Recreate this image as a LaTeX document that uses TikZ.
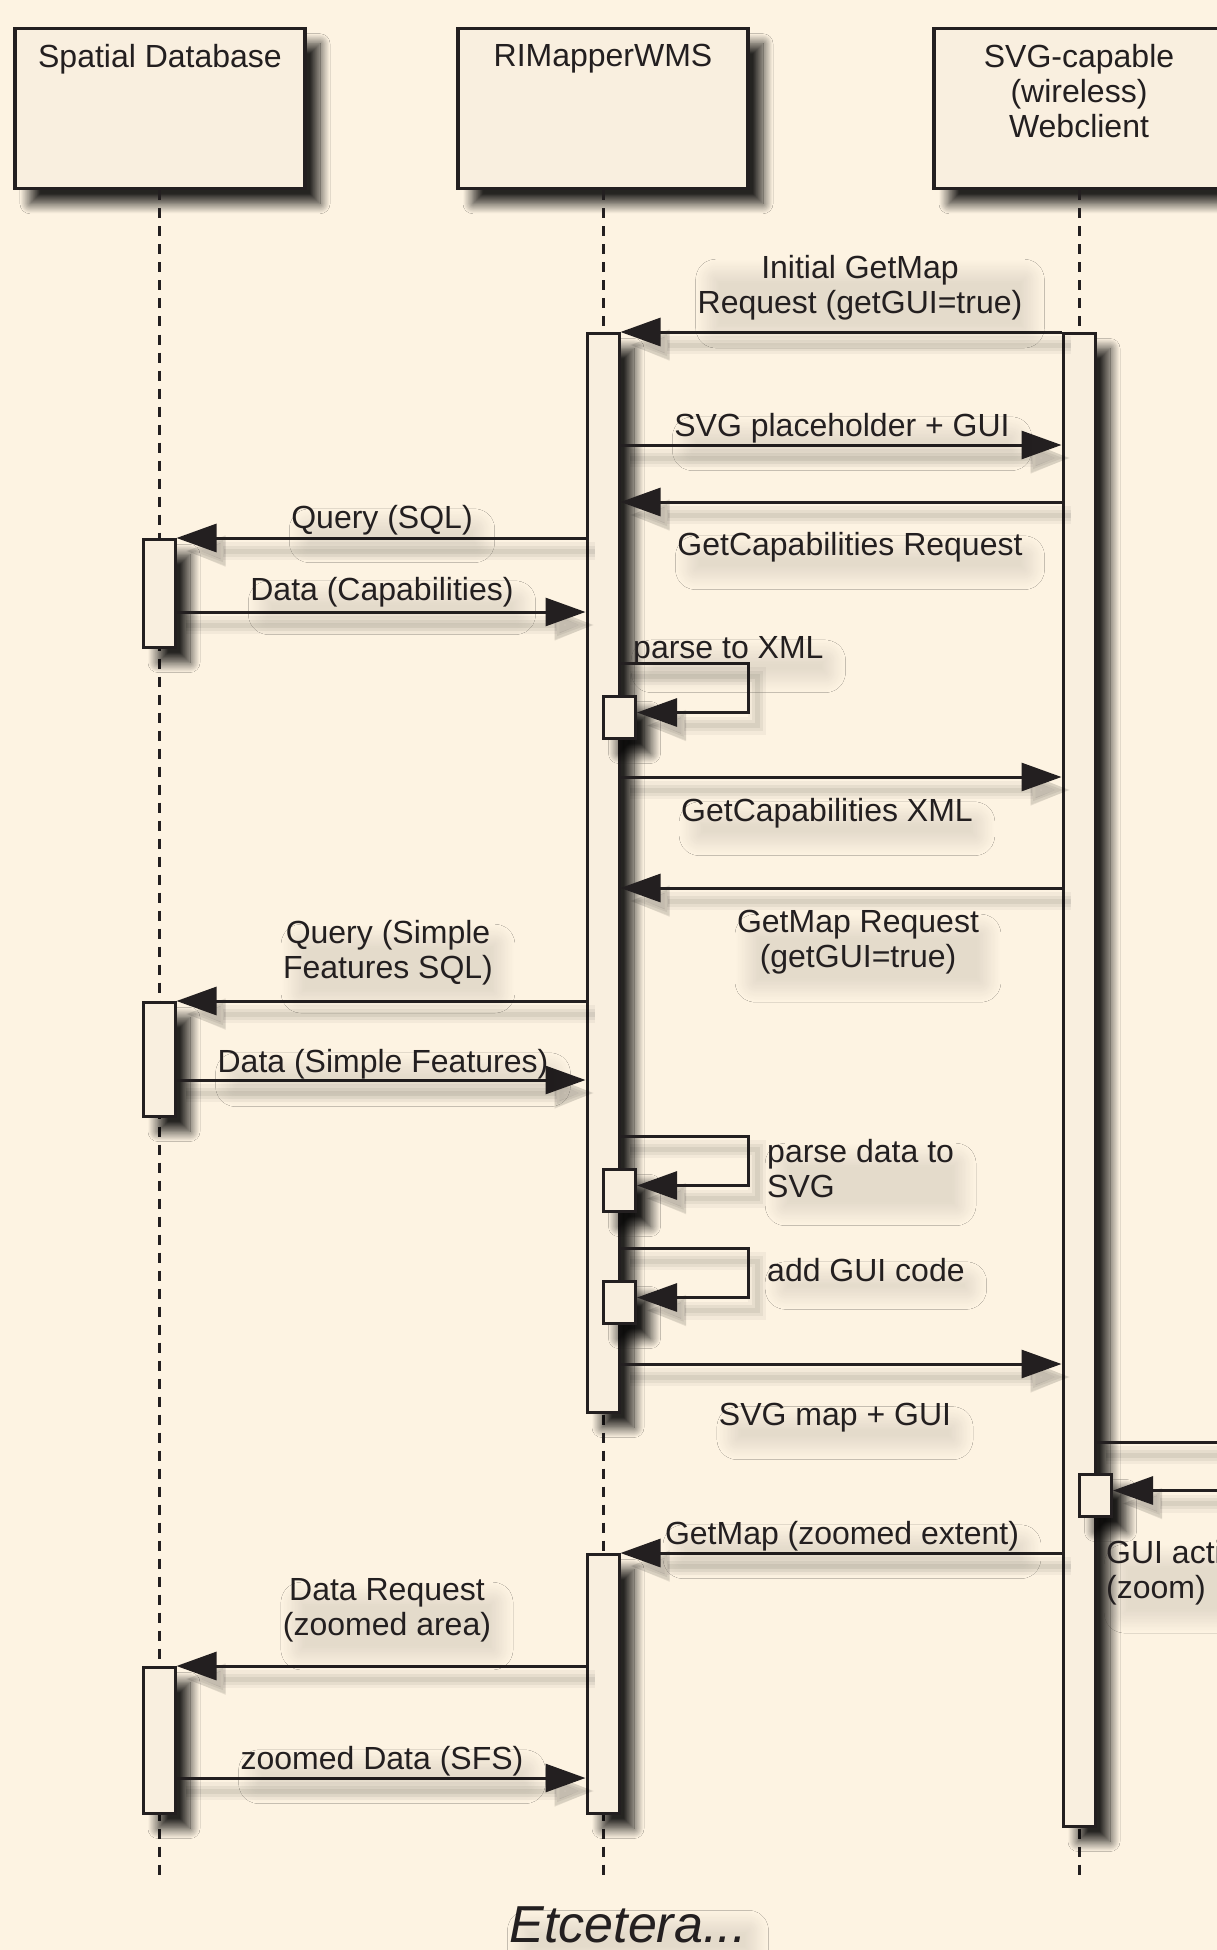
\documentclass[tikz,border=0pt]{standalone}
\usepackage{fontspec}
\setmainfont{Liberation Sans}
\usetikzlibrary{arrows.meta,shadows.blur}
\definecolor{bg}{RGB}{253,243,226}
\definecolor{boxfill}{RGB}{249,239,223}
\definecolor{ink}{RGB}{35,31,32}
\begin{document}
\begin{tikzpicture}[x=1pt,y=-1pt,
  every node/.style={font=\fontsize{32}{35}\selectfont, text=ink},
  sh/.style={blur shadow={shadow xshift=15pt, shadow yshift=-15pt, shadow blur radius=10pt, shadow blur steps=16, shadow opacity=85}},
  hdr/.style={draw=ink, line width=3.5pt, fill=boxfill, minimum width=290pt, minimum height=160pt, anchor=north, inner sep=0pt, sh},
  bar/.style={draw=ink, line width=3pt, fill=boxfill, minimum width=32pt, anchor=north, inner sep=0pt, sh},
  selfbox/.style={draw=ink, line width=3pt, fill=boxfill, minimum width=32pt, minimum height=42pt, anchor=north, inner sep=0pt, sh},
  life/.style={draw=ink, line width=3pt, dash pattern=on 10pt off 8pt},
  msg/.style={draw=ink, line width=3pt, -{Triangle[length=40pt,width=28pt]},
     preaction={draw=black, opacity=0.04, line width=18pt, transform canvas={shift={(9pt,-13pt)}}},
     preaction={draw=black, opacity=0.05, line width=11pt, transform canvas={shift={(9pt,-13pt)}}},
     preaction={draw=black, opacity=0.06, line width=5pt, transform canvas={shift={(9pt,-13pt)}}}},
  lbl/.style={inner sep=0pt, blur shadow={shadow xshift=10pt, shadow yshift=-16pt, shadow blur radius=12pt, shadow blur steps=16, shadow blur extra rounding=8pt, shadow opacity=10}},
  htxt/.style={inner sep=0pt, anchor=north, align=center}
]
\useasboundingbox (0,0) rectangle (1217,1950);
\fill[bg] (0,0) rectangle (1217,1950);
\begin{scope}
\clip (0,0) rectangle (1217,1950);

% headers
\node[hdr] (h1) at (160,27) {};
\node[hdr] (h2) at (603,27) {};
\node[hdr] (h3) at (1079,27) {};
\node[htxt] (t1) at (160,44) {Spatial Database};
\node[htxt] (t2) at (603,44) {RIMapperWMS};
\node[htxt] (t3) at (1079,44) {SVG-capable\\(wireless)\\Webclient};

% lifeline ends
\coordinate (e1) at (159,1875);
\coordinate (e2) at (603,1875);
\coordinate (e3) at (1079,1875);
\draw[life] (h1.south -| e1) -- (e1);
\draw[life] (h2.south -| e2) -- (e2);
\draw[life] (h3.south -| e3) -- (e3);

% activation bars
\node[bar, minimum height=1079pt] (r1) at (603,332) {};
\node[bar, minimum height=1493pt] (w1) at (1079,332) {};
\node[bar, minimum height=108pt] (d1) at (159,538) {};
\node[bar, minimum height=114pt] (d2) at (159,1001) {};
\node[bar, minimum height=146pt] (d3) at (159,1666) {};
\node[bar, minimum height=259pt] (r2) at (603,1553) {};

% self-call boxes
\node[selfbox] (s1) at (619.5,695) {};
\node[selfbox] (s2) at (619.5,1168) {};
\node[selfbox] (s3) at (619.5,1280) {};
\node[selfbox] (s4) at (1095.5,1473) {};

% message levels
\coordinate (y1) at (0,332);
\coordinate (y2) at (0,445);
\coordinate (y3) at (0,502);
\coordinate (y4) at (0,538);
\coordinate (y5) at (0,612);
\coordinate (ys1) at (0,663);
\coordinate (y6) at (0,777);
\coordinate (y7) at (0,888);
\coordinate (y8) at (0,1001);
\coordinate (y9) at (0,1080);
\coordinate (ys2) at (0,1136);
\coordinate (ys3) at (0,1248);
\coordinate (y10) at (0,1364);
\coordinate (ys4) at (0,1442);
\coordinate (y11) at (0,1553);
\coordinate (y12) at (0,1666);
\coordinate (y13) at (0,1778);
\coordinate (cx) at (748,0);
\coordinate (cw) at (1290,0);

\draw[msg] (w1.west |- y1) -- (r1.east |- y1);
\draw[msg] (r1.east |- y2) -- (w1.west |- y2);
\draw[msg] (w1.west |- y3) -- (r1.east |- y3);
\draw[msg] (r1.west |- y4) -- (d1.east |- y4);
\draw[msg] (d1.east |- y5) -- (r1.west |- y5);
\draw[msg] (r1.east |- ys1) -- (cx |- ys1) |- ([yshift=5pt]s1.east);
\draw[msg] (r1.east |- y6) -- (w1.west |- y6);
\draw[msg] (w1.west |- y7) -- (r1.east |- y7);
\draw[msg] (r1.west |- y8) -- (d2.east |- y8);
\draw[msg] (d2.east |- y9) -- (r1.west |- y9);
\draw[msg] (r1.east |- ys2) -- (cx |- ys2) |- ([yshift=5pt]s2.east);
\draw[msg] (r1.east |- ys3) -- (cx |- ys3) |- ([yshift=5pt]s3.east);
\draw[msg] (r1.east |- y10) -- (w1.west |- y10);
\draw[msg] (w1.east |- ys4) -- (cw |- ys4) |- ([yshift=5pt]s4.east);
\draw[msg] (w1.west |- y11) -- (r2.east |- y11);
\draw[msg] (r2.west |- y12) -- (d3.east |- y12);
\draw[msg] (d3.east |- y13) -- (r2.west |- y13);

% labels
\node[lbl, anchor=north, align=center] (l1) at (860,255) {Initial GetMap\\Request (getGUI=true)};
\node[lbl, anchor=base] (l2) at (842,436) {SVG placeholder + GUI};
\node[lbl, anchor=base] (l3) at (850,555) {GetCapabilities Request};
\node[lbl, anchor=base] (l4) at (382,528) {Query (SQL)};
\node[lbl, anchor=base] (l5) at (382,600) {Data (Capabilities)};
\node[lbl, anchor=base west] (l6) at (633,658) {parse to XML};
\node[lbl, anchor=base] (l7) at (827,821) {GetCapabilities XML};
\node[lbl, anchor=north, align=center] (l8) at (858,910) {GetMap Request\\(getGUI=true)};
\node[lbl, anchor=north, align=center] (l9) at (388,920) {Query (Simple\\Features SQL)};
\node[lbl, anchor=base] (l10) at (383,1072) {Data (Simple Features)};
\node[lbl, anchor=north west, align=left] (l11) at (767,1139) {parse data to\\SVG};
\node[lbl, anchor=base west] (l12) at (767,1281) {add GUI code};
\node[lbl, anchor=base] (l13) at (835,1425) {SVG map + GUI};
\node[lbl, anchor=north west, align=left] (l14) at (1106,1540) {GUI action\\(zoom)};
\node[lbl, anchor=base] (l15) at (842,1544) {GetMap (zoomed extent)};
\node[lbl, anchor=north, align=center] (l16) at (387,1578) {Data Request\\(zoomed area)};
\node[lbl, anchor=base] (l17) at (382,1769) {zoomed Data (SFS)};
\node[lbl, anchor=base, font=\fontsize{52}{60}\selectfont\itshape] (etc) at (628,1942) {Etcetera...};
\end{scope}
\end{tikzpicture}
\end{document}
